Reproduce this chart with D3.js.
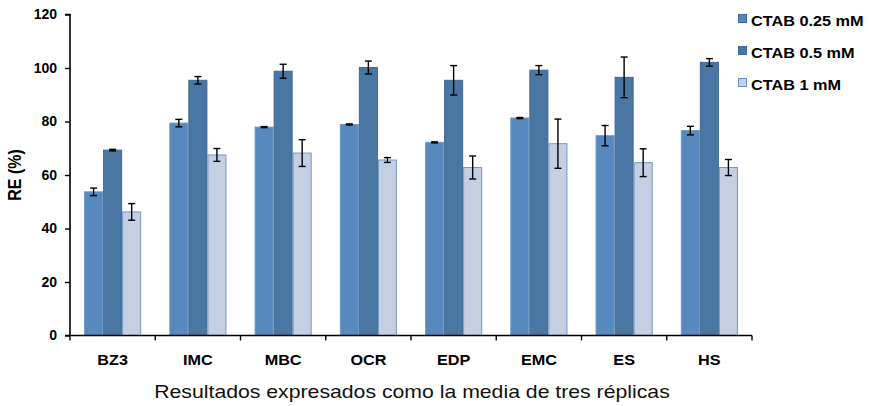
<!DOCTYPE html>
<html><head><meta charset="utf-8">
<script src="https://cdn.jsdelivr.net/npm/d3@7"></script>
<style>body{margin:0;background:#fff}svg{display:block;font-family:"Liberation Sans",Arial,sans-serif}</style>
</head><body><svg id="c" width="869" height="406"></svg>
<script>
const categories = ["BZ3","IMC","MBC","OCR","EDP","EMC","ES","HS"];
const seriesNames = ["CTAB 0.25 mM","CTAB 0.5 mM","CTAB 1 mM"];
const ctab025 = [53.7, 79.4, 77.9, 78.9, 72.2, 81.3, 74.7, 76.6];
const ctab025Err = [1.4, 1.4, 0.2, 0.2, 0.2, 0.2, 3.8, 1.6];
const ctab05 = [69.3, 95.4, 98.8, 100.2, 95.4, 99.2, 96.5, 102.1];
const ctab05Err = [0.3, 1.4, 2.6, 2.4, 5.5, 1.7, 7.6, 1.4];
const ctab1 = [46.2, 67.5, 68.2, 65.6, 62.8, 71.7, 64.6, 62.8];
const ctab1Err = [3.1, 2.4, 5.0, 0.9, 4.3, 9.2, 5.2, 3.0];
const yTicks = [0,20,40,60,80,100,120];
const yTitle = "RE (%)";
const xTitle = "Resultados expresados como la media de tres réplicas";

(function(){
const values = [ctab025, ctab05, ctab1];
const errors = [ctab025Err, ctab05Err, ctab1Err];
const fills = ["#5889be","#4a76a3","#c4cfe3"];
const strokes = ["#6c98c8","#41698f","#7497c2"];

const svg = d3.select("#c");
const mLeft = 70, mRight = 752, mTop = 14.5, mBottom = 335.5;
const x = d3.scaleBand().domain(categories).range([mLeft, mRight]).padding(0);
const y = d3.scaleLinear().domain([0,120]).range([mBottom, mTop]);
const groupW = x.bandwidth()*0.67;
const x1 = d3.scaleBand().domain(seriesNames).range([0, groupW]).padding(0);

const rows = [];
categories.forEach((c,i)=>seriesNames.forEach((s,j)=>rows.push({c,s,j,v:values[j][i],e:errors[j][i]})));

const g = svg.append("g");
g.selectAll("rect.bar").data(rows).join("rect").attr("class","bar")
  .attr("x",d=>x(d.c)+(x.bandwidth()-groupW)/2+x1(d.s)+0.5)
  .attr("width",x1.bandwidth()-1)
  .attr("y",d=>y(d.v)).attr("height",d=>y(0)-y(d.v))
  .attr("fill",d=>fills[d.j]).attr("stroke",d=>strokes[d.j]).attr("stroke-width",1);

const eb = g.selectAll("g.err").data(rows).join("g").attr("class","err")
  .attr("stroke","#000").attr("stroke-width",1.4);
const cx = d=>x(d.c)+(x.bandwidth()-groupW)/2+x1(d.s)+x1.bandwidth()/2;
eb.append("line").attr("x1",cx).attr("x2",cx).attr("y1",d=>y(d.v+d.e)).attr("y2",d=>y(d.v-d.e));
eb.append("line").attr("x1",d=>cx(d)-3.5).attr("x2",d=>cx(d)+3.5).attr("y1",d=>y(d.v+d.e)).attr("y2",d=>y(d.v+d.e));
eb.append("line").attr("x1",d=>cx(d)-3.5).attr("x2",d=>cx(d)+3.5).attr("y1",d=>y(d.v-d.e)).attr("y2",d=>y(d.v-d.e));

// Y axis
const ya = svg.append("g").attr("transform",`translate(${mLeft},0)`)
  .call(d3.axisLeft(y).tickValues(yTicks).tickSize(5).tickPadding(8).tickFormat(d3.format("d")));
ya.select(".domain").attr("stroke","#000").attr("stroke-width",1.6).attr("d",`M-5,${mTop}H0V${mBottom}`);
ya.selectAll(".tick line").attr("stroke","#000").attr("stroke-width",1.4);
ya.selectAll(".tick text").attr("font-size",14).attr("font-weight","bold").attr("fill","#000")
  .attr("font-family","Liberation Sans, Arial, sans-serif");

// X axis
const xa = svg.append("g").attr("transform",`translate(0,${mBottom})`);
xa.append("line").attr("x1",mLeft-5).attr("x2",mRight).attr("y1",0).attr("y2",0).attr("stroke","#000").attr("stroke-width",1.6);
const bounds = categories.map(c=>x(c)).concat([mRight]);
xa.selectAll("line.t").data(bounds).join("line").attr("class","t")
  .attr("x1",d=>d).attr("x2",d=>d).attr("y1",0).attr("y2",5).attr("stroke","#000").attr("stroke-width",1.4);
xa.selectAll("text").data(categories).join("text")
  .attr("transform",d=>`translate(${x(d)+x.bandwidth()/2},29) scale(1.08,1)`)
  .attr("text-anchor","middle").attr("font-size",15).attr("font-weight","bold").attr("fill","#000").text(d=>d);

// titles
svg.append("text").attr("transform","translate(21,175) scale(1.19,1) rotate(-90)")
  .attr("text-anchor","middle").attr("font-size",16).attr("font-weight","bold").attr("fill","#000").text(yTitle);
svg.append("text").attr("transform","translate(412,398) scale(1.18,1)")
  .attr("text-anchor","middle").attr("font-size",18).attr("fill","#111").text(xTitle);

// legend
const lg = svg.append("g").selectAll("g").data(seriesNames).join("g")
  .attr("transform",(d,i)=>`translate(738,${14+i*32})`);
lg.append("rect").attr("x",0.5).attr("y",0.5).attr("width",8).attr("height",8)
  .attr("fill",(d,i)=>fills[i]).attr("stroke",(d,i)=>i==2?"#6d8fbb":"#3f6a98").attr("stroke-width",1);
lg.append("text").attr("transform","translate(13,12) scale(1.05,1)")
  .attr("font-size",15.5).attr("font-weight","bold").attr("fill","#000").text(d=>d);
})();
</script></body></html>
